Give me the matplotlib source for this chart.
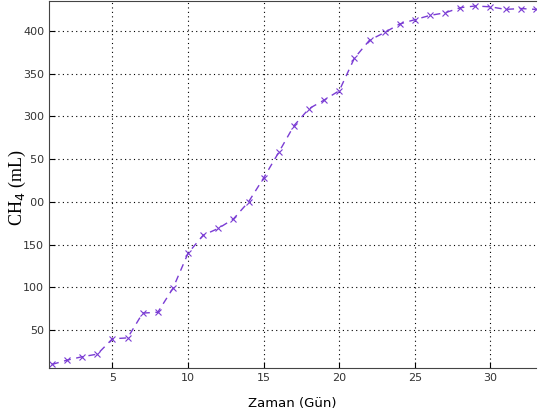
import matplotlib.pyplot as plt
import numpy as np

days = np.arange(1, 34)
ch4 = [10, 15, 19, 22, 40, 41, 70, 71, 99, 140, 161, 169, 180, 200, 228,
       258, 289, 309, 319, 330, 368, 389, 398, 408, 413, 418, 421, 427,
       429, 428, 425, 426, 425]

yticks = [50, 100, 150, 200, 250, 300, 350, 400]
xticks = [5, 10, 15, 20, 25, 30]

fig = plt.figure(figsize=(5.38, 4.18), dpi=100)
ax = fig.add_axes([0.091, 0.12, 0.905, 0.878])

ax.plot(days, ch4, linestyle=(0, (5, 4)), color='#7a3cd4', lw=1.0,
        marker='x', markersize=4, markeredgewidth=0.8)

ax.set_xlim(0.8, 33)
ax.set_ylim(6, 435)
ax.set_xticks(xticks)
ax.set_yticks(yticks)
ax.tick_params(direction='in', length=4, labelsize=8, labelcolor='#333333',
               top=False, right=False)
ax.grid(True, linestyle=(0, (1, 3)), color='black', lw=0.8)
ax.spines['right'].set_visible(False)
for s in ['left', 'bottom', 'top']:
    ax.spines[s].set_color('#444444')

ax.set_xlabel('Zaman (Gün)', fontsize=9.5, labelpad=10)
# ylabel sits over the tick labels and hides part of them, as in the original
ax.set_ylabel(r'CH$_4$ (mL)', fontsize=13, family='Liberation Serif',
              bbox=dict(facecolor='white', edgecolor='none', pad=2),
              zorder=5)
ax.yaxis.set_label_coords(-0.064, 0.49)
ax.yaxis.label.set_va('center')

fig.savefig('out.png', dpi=100)
